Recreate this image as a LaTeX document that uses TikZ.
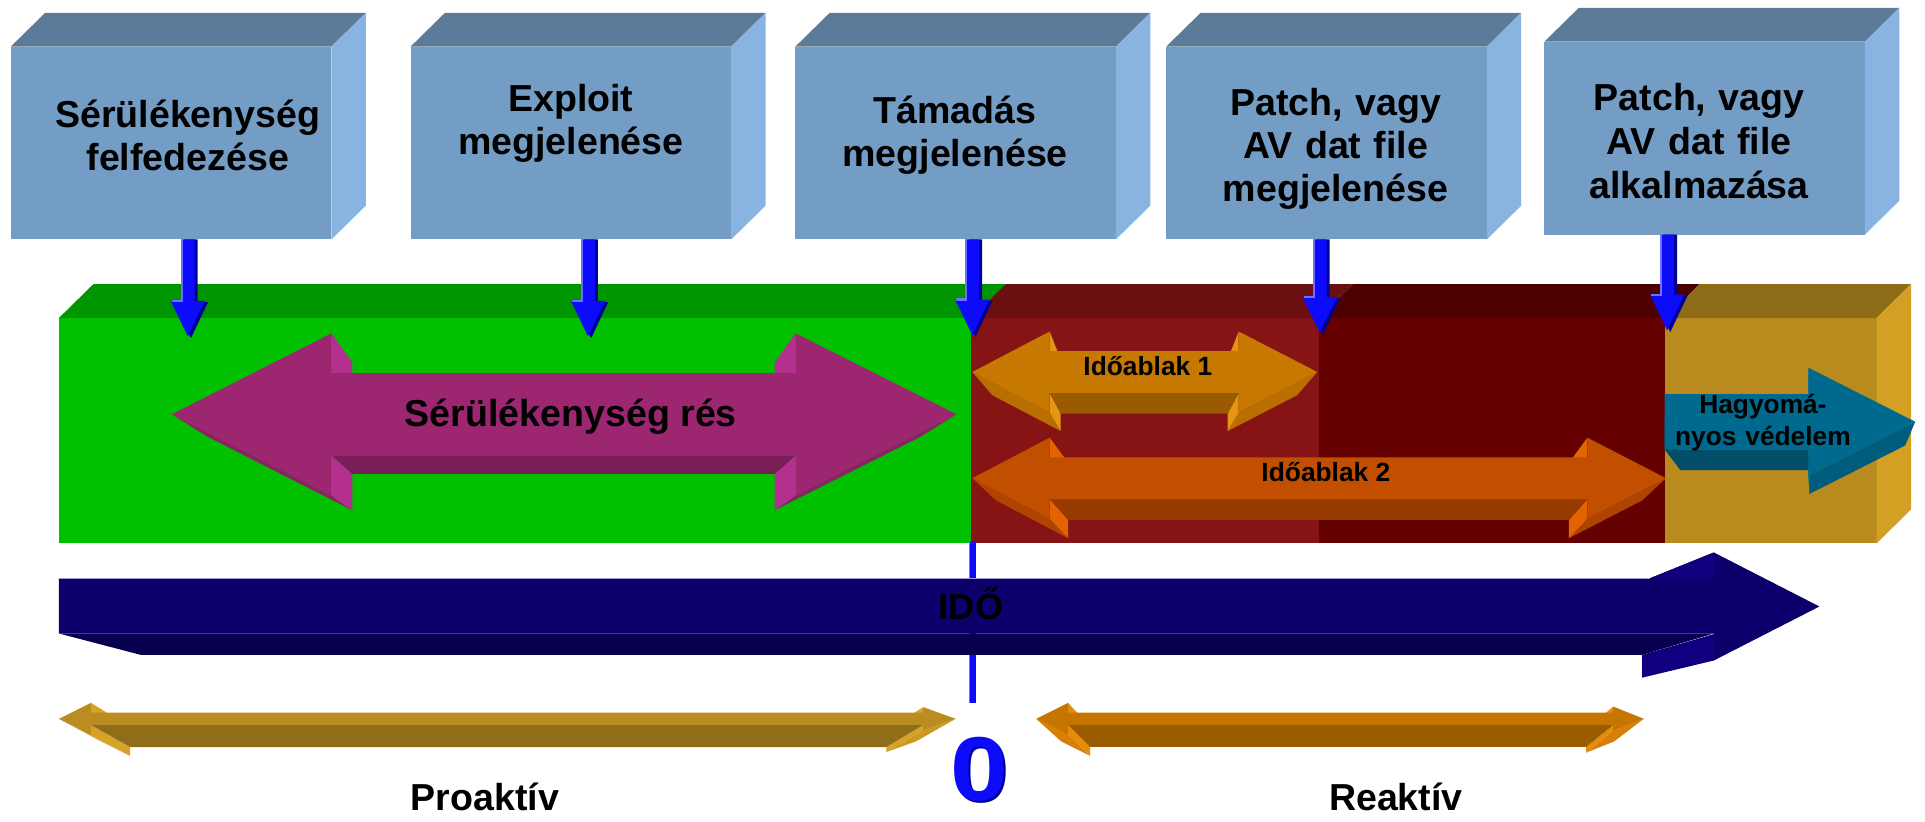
\documentclass[tikz,border=0pt]{standalone}
\usepackage{fontspec}
\setmainfont{Liberation Sans}
\usetikzlibrary{calc}

% event boxes
\definecolor{boxFront}{RGB}{116,157,197}
\definecolor{boxTop}{RGB}{92,123,153}
\definecolor{boxSide}{RGB}{137,180,225}
% timeline band
\definecolor{grnFront}{RGB}{0,192,0}
\definecolor{grnTop}{RGB}{0,150,0}
\definecolor{redFront}{RGB}{134,20,20}
\definecolor{redTop}{RGB}{106,16,16}
\definecolor{drkFront}{RGB}{100,0,0}
\definecolor{drkTop}{RGB}{77,0,0}
\definecolor{gldFront}{RGB}{185,138,30}
\definecolor{gldTop}{RGB}{140,108,22}
\definecolor{gldSide}{RGB}{212,160,36}
% 3D arrows: F front, B bottom, L head back, S lower head slant
\definecolor{magF}{RGB}{156,38,112}\definecolor{magB}{RGB}{122,30,88}
\definecolor{magL}{RGB}{180,48,142}\definecolor{magS}{RGB}{140,34,100}
\definecolor{abaF}{RGB}{199,120,0}\definecolor{abaB}{RGB}{153,90,0}
\definecolor{abaL}{RGB}{228,150,18}\definecolor{abaS}{RGB}{185,110,0}
\definecolor{abbF}{RGB}{194,78,0}\definecolor{abbB}{RGB}{150,58,0}
\definecolor{abbL}{RGB}{228,98,0}\definecolor{abbS}{RGB}{175,68,0}
\definecolor{tealF}{RGB}{0,106,142}\definecolor{tealB}{RGB}{0,78,104}
\definecolor{tealL}{RGB}{0,120,160}\definecolor{tealS}{RGB}{0,92,125}
\definecolor{proF}{RGB}{186,140,33}\definecolor{proB}{RGB}{143,109,25}
\definecolor{proL}{RGB}{214,163,40}\definecolor{proS}{RGB}{204,154,36}
\definecolor{reaF}{RGB}{198,118,0}\definecolor{reaB}{RGB}{155,92,0}
\definecolor{reaL}{RGB}{230,140,10}\definecolor{reaS}{RGB}{215,128,5}
\definecolor{navyF}{RGB}{12,0,108}\definecolor{navyB}{RGB}{6,0,78}
\definecolor{navyL}{RGB}{16,0,128}\definecolor{navyEdge}{RGB}{160,150,210}
\definecolor{dropBlue}{RGB}{12,12,250}
\definecolor{dropDark}{RGB}{0,0,150}
\definecolor{dropPale}{RGB}{110,110,255}

% outline points of a double arrow:
% name, left tip x, left head base x, right head base x, right tip x,
% axis y, half shaft, left half head, right half head
\newcommand\dblgeom[9]{%
  \coordinate (#1-T1) at (#2,#6);
  \coordinate (#1-H1) at (#3,{#6-#8});
  \coordinate (#1-S1) at (#3,{#6-#7});
  \coordinate (#1-S2) at (#4,{#6-#7});
  \coordinate (#1-H2) at (#4,{#6-#9});
  \coordinate (#1-T2) at (#5,#6);
  \coordinate (#1-H3) at (#4,{#6+#9});
  \coordinate (#1-S3) at (#4,{#6+#7});
  \coordinate (#1-S4) at (#3,{#6+#7});
  \coordinate (#1-H4) at (#3,{#6+#8});
}
% extruded faces toward a vanishing point: name, vanishing point, depth
\newcommand\dblfaces[3]{%
  \foreach \p in {T1,H1,S1,S2,H2,T2,H3,S3,S4,H4}
    \coordinate (#1-\p-b) at ($(#1-\p)!#3!#2$);
  \fill[#1S] (#1-T1) -- (#1-H4) -- (#1-H4-b) -- (#1-T1-b) -- cycle;
  \fill[#1S] (#1-H3) -- (#1-T2) -- (#1-T2-b) -- (#1-H3-b) -- cycle;
  \fill[#1L] (#1-H1) -- (#1-S1) -- (#1-S1-b) -- (#1-H1-b) -- cycle;
  \fill[#1L] (#1-S2) -- (#1-H2) -- (#1-H2-b) -- (#1-S2-b) -- cycle;
  \fill[#1L] (#1-H3) -- (#1-S3) -- (#1-S3-b) -- (#1-H3-b) -- cycle;
  \fill[#1L] (#1-S4) -- (#1-H4) -- (#1-H4-b) -- (#1-S4-b) -- cycle;
  \fill[#1B] (#1-S3) -- (#1-S4) -- (#1-S4-b) -- (#1-S3-b) -- cycle;
  \fill[#1F] (#1-T1) -- (#1-H1) -- (#1-S1) -- (#1-S2) -- (#1-H2) -- (#1-T2)
     -- (#1-H3) -- (#1-S3) -- (#1-S4) -- (#1-H4) -- cycle;
}
% blue marker arrow from an event box down to its tip on the band
\newcommand\droparrow[2]{%
  \coordinate (#2-top) at (#1.south -| #2);
  \fill[dropDark] ($(#2-top)+(-3,0)$) -- ($(#2)+(-3,-28)$) -- ($(#2)+(-11.5,-28)$)
     -- ($(#2)+(2.5,1.5)$) -- ($(#2)+(16.5,-28)$) -- ($(#2)+(8,-28)$) -- ($(#2-top)+(8,0)$) -- cycle;
  \fill[dropBlue] ($(#2-top)+(-5.5,0)$) -- ($(#2)+(-5.5,-29)$) -- ($(#2)+(-14,-29)$)
     -- (#2) -- ($(#2)+(14,-29)$) -- ($(#2)+(5.5,-29)$) -- ($(#2-top)+(5.5,0)$) -- cycle;
  \draw[dropPale, line width=0.5pt] ($(#2-top)+(-5,0)$) -- ($(#2)+(-5,-29)$) -- ($(#2)+(-13,-29)$);
}

\tikzset{
  evbox/.style={fill=boxFront, minimum width=2.61cm, minimum height=1.57cm,
    inner sep=0pt, outer sep=0pt},
  boxlbl/.style={font=\bfseries\fontsize{8.7pt}{10pt}\selectfont, text width=2.5cm,
    align=center, anchor=base, inner sep=0pt},
  biglbl/.style={font=\bfseries\fontsize{8.7pt}{10pt}\selectfont, anchor=base, inner sep=0pt},
  smalllbl/.style={font=\bfseries\fontsize{6.1pt}{7.4pt}\selectfont, anchor=base, inner sep=0pt},
  zerolbl/.style={anchor=base, inner sep=0pt, font=\bfseries\fontsize{21pt}{21pt}\selectfont},
}

\begin{document}
\begin{tikzpicture}[x=0.01cm, y=-0.01cm]
\useasboundingbox (0,0) rectangle (1568,669);

% ---------- event boxes ----------
\node[evbox] (b1) at (139.35,116.5) {};
\node[evbox] (b2) at (465,116.5) {};
\node[evbox] (b3) at (778.4,116.5) {};
\node[evbox] (b4) at (1080.5,116.5) {};
\node[evbox] (b5) at (1388.5,112.5) {};
\foreach \b in {b1,b2,b3,b4,b5} {
  \fill[boxTop] (\b.north west) -- (\b.north east) -- ($(\b.north east)+(28,-27.5)$)
     -- ($(\b.north west)+(28,-27.5)$) -- cycle;
  \fill[boxSide] (\b.north east) -- ($(\b.north east)+(28,-27.5)$)
     -- ($(\b.south east)+(28,-27.5)$) -- (\b.south east) -- cycle;
}
\node[boxlbl] (l1) at (153,103.5) {Sérülékenység\\felfedezése};
\node[boxlbl] (l2) at (465,91) {Exploit\\megjelenése};
\node[boxlbl] (l3) at (778,100.5) {Támadás\\megjelenése};
\node[boxlbl] (l4) at (1088,93.7) {Patch, vagy\\AV dat file\\megjelenése};
\node[boxlbl, font=\bfseries\fontsize{8.7pt}{10.3pt}\selectfont] (l5) at (1384,89.6)
  {Patch, vagy\\AV dat file\\alkalmazása};

% ---------- timeline band ----------
\fill[grnFront] (48,259) rectangle (791,442);
\fill[grnTop] (48,259) -- (791,259) -- (819,231.5) -- (76,231.5) -- cycle;
\fill[redFront] (791,259) rectangle (1074,442);
\fill[redTop] (791,259) -- (1074,259) -- (1102,231.5) -- (819,231.5) -- cycle;
\fill[drkFront] (1074,259) rectangle (1356.5,442);
\fill[drkTop] (1074,259) -- (1356.5,259) -- (1384.5,231.5) -- (1102,231.5) -- cycle;
\fill[gldFront] (1356.5,259) rectangle (1528.6,442.6);
\fill[gldTop] (1356.5,259) -- (1528.6,259) -- (1556.6,231.5) -- (1384.5,231.5) -- cycle;
\fill[gldSide] (1528.6,259) -- (1556.6,231.5) -- (1556.6,415) -- (1528.6,442.6) -- cycle;

% ---------- arrows inside the band ----------
\dblgeom{mag}{140}{270}{648}{779}{337.5}{33.5}{66}{66}
\dblfaces{mag}{(459,538)}{0.09}
\dblgeom{aba}{792}{855}{1009}{1073}{303}{17}{33}{33}
\dblfaces{aba}{(932,465)}{0.117}
\dblgeom{abb}{792}{855}{1293}{1357}{389.5}{17}{33}{33}
\dblfaces{abb}{(1074,654)}{0.0685}
\dblgeom{teal}{1356}{1356}{1473}{1560}{343.5}{22.5}{22.5}{44}
\dblfaces{teal}{(1482,531)}{0.103}

\node[biglbl] (gap) at (465,347.5) {Sérülékenység rés};
\node[smalllbl] (win1) at (935,306) {Időablak 1};
\node[smalllbl] (win2) at (1080,391.8) {Időablak 2};
\node[smalllbl, text width=1.6cm, align=center] (trad) at (1436,336.5) {Hagyomá-\\nyos védelem};

% ---------- event markers ----------
\coordinate (t1) at (153,274);
\coordinate (t2) at (479,274);
\coordinate (t3) at (792,273);
\coordinate (t4) at (1075,271);
\coordinate (t5) at (1358,269);
\droparrow{b1}{t1}
\droparrow{b2}{t2}
\droparrow{b3}{t3}
\droparrow{b4}{t4}
\droparrow{b5}{t5}

% zero line under the attack event
\fill[dropBlue] (789,441) rectangle (795,573);
\fill[dropPale] (789,441) rectangle (790.5,573);

% ---------- time axis ----------
\coordinate (timeTip) at (1482,494);
\fill[navyB] (48,516) -- (1396,516) -- (1337.5,533.5) -- (115,533.5) -- cycle;
\fill[navyL] (1337.5,533.5) -- (1396,516.5) -- (1396,538) -- (1337.5,552) -- cycle;
\fill[navyF] (48,471) -- (1344,471) -- (1396,450) -- (timeTip) -- (1396,538)
   -- (1396,516) -- (48,516) -- cycle;
\fill[navyL] (1344,471) -- (1396,450) -- (1396,471) -- cycle;
\draw[navyEdge, line width=0.3pt] (48,471) -- (1344,471);
\node[biglbl, font=\bfseries\fontsize{8.4pt}{10pt}\selectfont] (ido) at (791,504.5) {IDŐ};

% ---------- proactive / reactive ----------
\dblgeom{pro}{48}{74}{752}{778.5}{585.5}{5}{13}{9.5}
\dblfaces{pro}{(424,787)}{0.0914}
\dblgeom{rea}{844}{870}{1314}{1339}{585.5}{5}{13}{10}
\dblfaces{rea}{(1070,790)}{0.09}

\node[biglbl] (pro) at (395,660) {Proaktív};
\node[biglbl] (rea) at (1137,660) {Reaktív};
\node[zerolbl, text=dropDark] at (799.5,653.5) {\scalebox{1.15}[1]{0}};
\node[zerolbl, text=dropBlue] (zero) at (798,652) {\scalebox{1.15}[1]{0}};
\end{tikzpicture}
\end{document}
